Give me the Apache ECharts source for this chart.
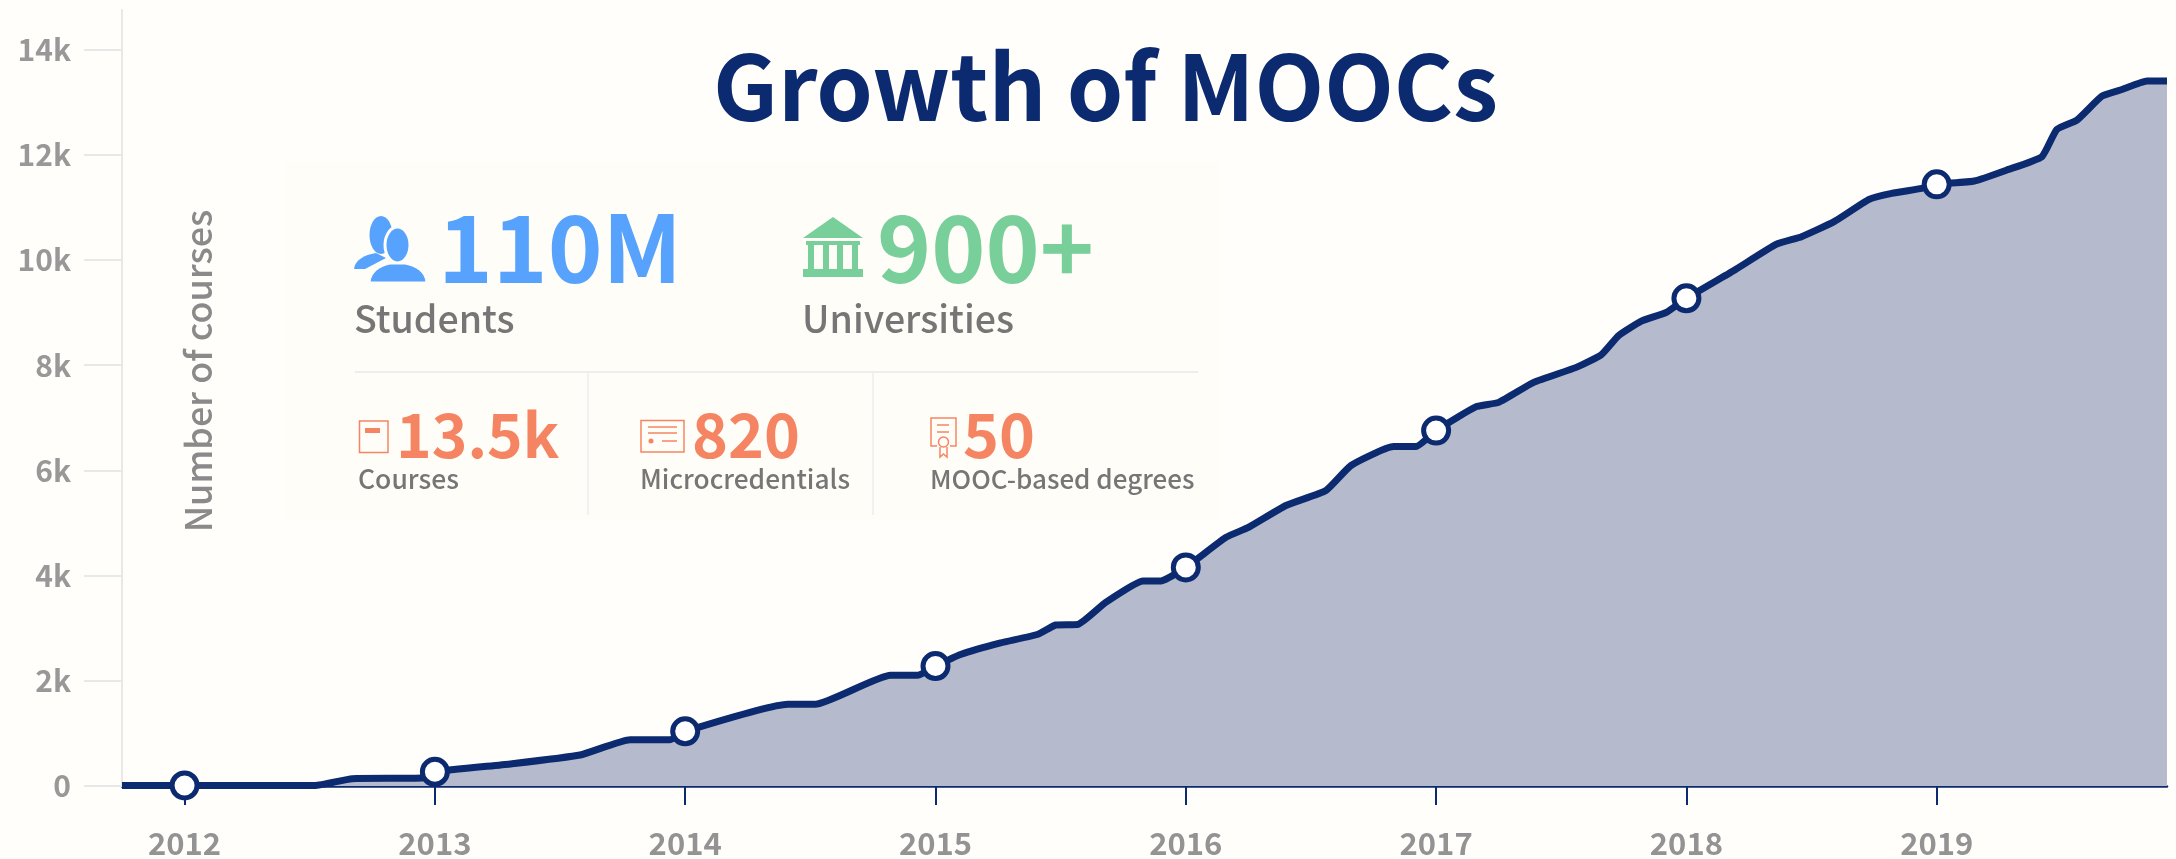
<!DOCTYPE html>
<html>
<head>
<meta charset="utf-8">
<title>Growth of MOOCs</title>
<script src="https://cdn.jsdelivr.net/npm/echarts@6/dist/echarts.min.js"></script>
<style>
  html, body { margin: 0; padding: 0; background: #fffefa; }
  #chart { width: 2176px; height: 859px; }
</style>
</head>
<body>
<div id="chart"></div>
<script>
var years = [2011.75, 2012, 2012.52, 2012.67, 2012.95, 2013, 2013.3, 2013.58, 2013.78, 2013.94, 2014, 2014.41, 2014.52, 2014.82, 2014.93, 2015,
  2015.1, 2015.26, 2015.41, 2015.48, 2015.57, 2015.68, 2015.83, 2015.9, 2016, 2016.16, 2016.25, 2016.4, 2016.56, 2016.66, 2016.83, 2016.92, 2017,
  2017.16, 2017.25, 2017.39, 2017.56, 2017.66, 2017.73, 2017.82, 2017.92, 2018, 2018.19, 2018.36, 2018.46, 2018.59, 2018.73, 2018.82, 2018.94, 2019,
  2019.15, 2019.28, 2019.42, 2019.48, 2019.56, 2019.66, 2019.74, 2019.84, 2019.92]
var courses = [10, 10, 10, 140, 150, 270, 420, 590, 880, 880, 1040, 1555, 1555, 2106, 2106, 2280,
  2500, 2720, 2884, 3060, 3074, 3491, 3898, 3898, 4155, 4725, 4915, 5332, 5617, 6092, 6451, 6451, 6755,
  7210, 7292, 7672, 7957, 8197, 8565, 8835, 9004, 9270, 9799, 10298, 10442, 10727, 11151, 11265, 11360, 11436,
  11499, 11708, 11961, 12480, 12657, 13112, 13239, 13402, 13402]
var markerYears = [2012, 2013, 2014, 2015, 2016, 2017, 2018, 2019]
var markerValues = [10, 270, 1040, 2280, 4155, 6755, 9270, 11436]
var yTicks = [0, 2000, 4000, 6000, 8000, 10000, 12000, 14000]

var navy = '#0c2a6f'
var blue = '#57a2fd'
var green = '#78cf9a'
var orange = '#f58562'
var grey = '#767676'
var paper = '#fffdf8'
var family = '"Noto Sans CJK SC", "Noto Sans", sans-serif'

function label(text, x, y, size, color, weight) {
  return {
    type: 'text', z: 5,
    style: { text: text, x: x, y: y, fontSize: size, fontWeight: weight || 500, fontFamily: family, fill: color, textVerticalAlign: 'bottom' }
  }
}
// graphic has no plain path type, so each svg path is registered as a shape
var pathCount = 0
function svgPath(d, style) {
  var name = 'iconPath' + pathCount++
  echarts.graphic.registerShape(name, echarts.graphic.extendPath(d))
  return { type: name, z: 5, style: style }
}
function fillPath(d, color) {
  return svgPath(d, { fill: color })
}
function linePath(d, color, width) {
  return svgPath(d, { fill: 'none', stroke: color, lineWidth: width })
}

var myChart = echarts.init(document.getElementById('chart'))
myChart.setOption({
  backgroundColor: '#fffefa',
  animation: false,
  title: {
    text: 'Growth of MOOCs',
    left: 708, top: 36,
    textStyle: { color: navy, fontFamily: family, fontWeight: 700, fontSize: 90.5 }
  },
  grid: { left: 122, right: 9, top: 10, bottom: 72 },
  xAxis: {
    type: 'value',
    min: 2011.75, max: 2019.92,
    splitLine: { show: false },
    axisLine: { lineStyle: { color: navy, width: 2.5 } },
    axisTick: { length: 19, lineStyle: { color: navy, width: 2 }, customValues: markerYears },
    axisLabel: { customValues: markerYears, margin: 42, color: '#939393', fontFamily: family, fontWeight: 700, fontSize: 31, formatter: function (v) { return String(v) } }
  },
  yAxis: {
    type: 'value',
    min: 0, max: 14750,
    splitLine: { show: false },
    axisLine: { show: true, lineStyle: { color: '#e8e8e8', width: 2 } },
    axisTick: { show: true, length: 38, lineStyle: { color: '#e8e8e8', width: 2 }, customValues: yTicks },
    axisLabel: { customValues: yTicks, margin: 51, color: '#989898', fontFamily: family, fontWeight: 700, fontSize: 30, padding: [0, 0, 5, 0],
      formatter: function (v) { return v === 0 ? '0' : (v / 1000) + 'k' } }
  },
  series: [
    {
      type: 'line',
      data: years.map(function (y, i) { return [y, courses[i]] }),
      showSymbol: false,
      smooth: 0.15,
      lineStyle: { color: navy, width: 7 },
      areaStyle: { color: '#b5bacd', opacity: 1 },
      z: 3
    },
    {
      type: 'scatter',
      data: markerYears.map(function (y, i) { return [y, markerValues[i]] }),
      symbol: 'circle',
      symbolSize: 25,
      itemStyle: { color: '#fff', borderColor: navy, borderWidth: 5, opacity: 1 },
      z: 4
    }
  ],
  graphic: [
    // panel behind the stats
    { type: 'rect', z: -1, shape: { x: 283, y: 162, width: 937, height: 358 }, style: { fill: paper } },
    { type: 'text', z: 5, x: 198, y: 371, rotation: Math.PI / 2, style: { text: 'Number of courses', fontSize: 36, fontWeight: 500, fontFamily: family, fill: '#8a8a8a', align: 'center', verticalAlign: 'middle' } },

    label('110M', 438, 294, 93, blue, 700),
    label('Students', 354, 337, 37.5, grey),
    label('900+', 877, 294, 92, green, 700),
    label('Universities', 802, 337, 37.5, grey),
    label('13.5k', 396, 465, 60.5, orange, 700),
    label('Courses', 358, 492, 26.5, grey),
    label('820', 692, 465, 61, orange, 700),
    label('Microcredentials', 640, 492, 26.3, grey),
    label('50', 963, 465, 61, orange, 700),
    label('MOOC-based degrees', 930, 492, 26, grey),

    // dividers
    linePath('M355 372 H1198', '#eeeded', 2),
    linePath('M588 372 V515', '#ececec', 1.5),
    linePath('M873 372 V515', '#ececec', 1.5),

    // students icon
    { type: 'ellipse', z: 5, shape: { cx: 381, cy: 235, rx: 11.5, ry: 19 }, style: { fill: blue } },
    fillPath('M354 269 C355 260 364 255 376 253 L386 258 L365 269 Z', blue),
    { type: 'ellipse', z: 5, shape: { cx: 397.5, cy: 245, rx: 12.5, ry: 18 }, style: { fill: blue, stroke: paper, lineWidth: 3 } },
    svgPath('M370 282 C371 272 380 266 390 264 L405 264 C416 266 425 272 426 282 Z', { fill: blue, stroke: paper, lineWidth: 1 }),

    // university icon
    fillPath('M833 217 L863 238 L803 238 Z', green),
    fillPath('M806 241 H860 V245 H806 Z M808 245 H814 V269 H808 Z M823 245 H829 V269 H823 Z M837 245 H843 V269 H837 Z M852 245 H858 V269 H852 Z M803 269 H863 V277 H803 Z', green),

    // course icon
    linePath('M359.5 421 H388 V452.5 H359.5 Z', orange, 1.5),
    fillPath('M365 428 H380 V433 H365 Z', orange),

    // microcredential icon
    linePath('M641 420.5 H684 V452 H641 Z', orange, 1.5),
    linePath('M648 427 H677 M648 433 H677 M662 441 H677', orange, 1.5),
    { type: 'circle', z: 5, shape: { cx: 651, cy: 441, r: 2.5 }, style: { fill: orange } },

    // degree icon
    linePath('M937 446 H931 V418 H956 V446 H950', orange, 1.5),
    linePath('M937 425 H949 M937 432 H949', orange, 1.5),
    { type: 'circle', z: 5, shape: { cx: 943.5, cy: 442, r: 5 }, style: { fill: 'none', stroke: orange, lineWidth: 1.5 } },
    linePath('M940 447 V457 L943.5 454 L947 457 V447', orange, 1.5)
  ]
})
</script>
</body>
</html>
